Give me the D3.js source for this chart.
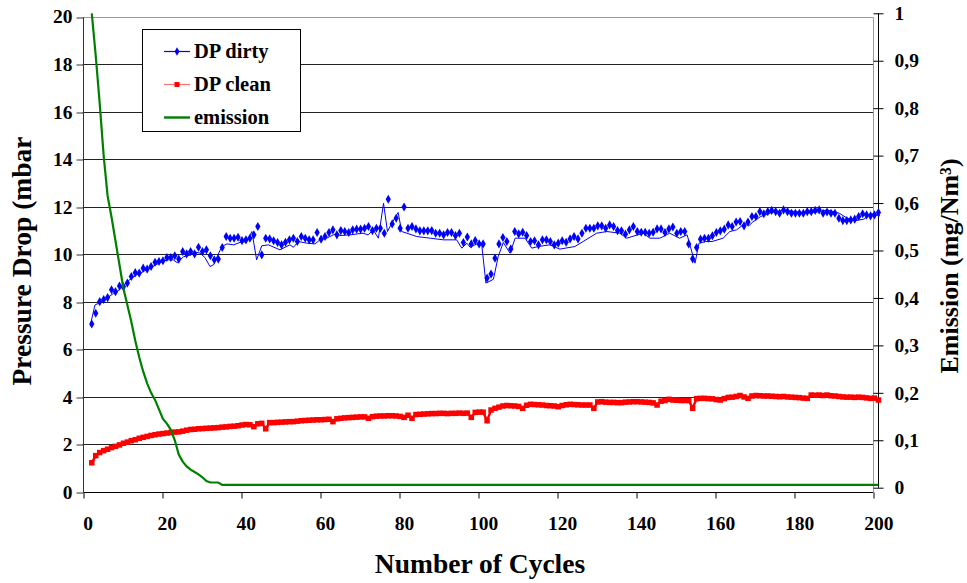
<!DOCTYPE html>
<html><head><meta charset="utf-8">
<script src="https://cdn.jsdelivr.net/npm/d3@7/dist/d3.min.js"></script>
<style>html,body{margin:0;padding:0;background:#fff;}svg{display:block;}
svg text{font-family:"Liberation Serif","Times New Roman",serif !important;font-weight:bold;fill:#000;}</style>
</head><body><svg id="c" width="967" height="583"></svg>
<script>
// ---------- DATA ----------
const cycles = d3.range(2, 202); // cycle numbers 2..201
const dpDirty = [7.07,7.52,8.01,8.10,8.18,8.51,8.43,8.67,8.64,8.79,9.07,9.23,9.21,9.42,9.38,9.49,9.67,9.70,9.73,9.87,
9.87,9.94,9.80,10.12,10.02,10.12,10.02,10.30,10.12,10.19,9.94,9.77,9.80,10.29,10.75,10.68,10.68,10.72,10.58,10.61,
10.68,10.82,11.17,9.98,10.68,10.65,10.57,10.50,10.40,10.51,10.61,10.68,10.54,10.75,10.68,10.61,10.61,10.92,10.64,10.75,
10.92,11.03,10.82,11.00,10.96,10.92,11.03,11.06,11.06,11.10,11.17,11.00,11.10,11.10,10.89,12.32,11.28,11.52,11.10,11.99,
11.10,11.17,11.07,10.99,10.99,10.99,11.00,10.89,10.89,10.82,10.92,10.92,10.79,10.89,10.50,10.73,10.44,10.58,10.44,10.44,
9.00,9.17,9.84,10.44,10.71,10.54,10.23,10.96,10.86,10.93,10.79,10.54,10.57,10.40,10.61,10.61,10.54,10.40,10.47,10.57,
10.51,10.65,10.75,10.65,10.89,11.10,11.10,11.10,11.20,11.20,11.10,11.24,11.17,11.00,10.99,10.85,11.03,11.17,10.96,10.93,
10.93,10.89,10.93,11.07,11.07,10.92,11.07,11.15,10.89,10.96,10.96,10.44,9.81,10.29,10.64,10.68,10.68,10.78,10.92,10.99,
11.06,11.24,11.17,11.36,11.38,11.20,11.36,11.59,11.59,11.80,11.71,11.80,11.85,11.80,11.73,11.87,11.80,11.73,11.73,11.73,
11.73,11.80,11.80,11.85,11.87,11.73,11.78,11.73,11.73,11.52,11.42,11.42,11.45,11.48,11.59,11.71,11.66,11.62,11.66,11.76];
// DP dirty trace (line) vertices
const dirtyLineCycles = [1.6,2.8,4.1,5.8,7.5,9.2,11.3,13.4,15.9,18.5,21,22.6,23.6,25.2,26.8,28.1,29.4,30.6,31.9,32.8,33.8,34.9,36.2,37.9,39.5,41.2,42.5,43.7,45,46.7,
49.6,52.1,53,54.3,56.4,58.5,59.7,61.4,63.1,64.3,64.7,67.3,70.6,71.9,73.2,74.5,75.8,76.8,77.9,79.5,80.4,81.7,84.2,87.6,91,94.3,95.6,96.9,97.7,99.8,
100.6,101.7,103.6,104.8,106.1,107.8,109.1,111.6,113.3,114.9,117.9,120.4,124.2,126.3,129.7,132.3,135.6,137.3,141.5,143.2,145.7,148.2,150.7,152.6,154.6,155.6,157.3,158.9,161.7,163.4,
165.1,167.3,168.2,169.2,171.2,174.3,177.2,180.2,183.1,186.1,188,190.1,191.1,193.1,195.1,197.3,199.2,201.4];
const dirtyLineValues = [7.0,7.87,7.97,8.15,8.36,8.53,8.90,9.14,9.35,9.59,9.77,9.77,9.65,9.90,9.96,10.10,10.05,9.87,9.49,9.56,9.94,10.33,10.44,10.40,10.50,10.54,10.96,9.77,10.36,10.40,
10.19,10.40,10.30,10.54,10.47,10.44,10.61,10.68,10.82,10.89,10.79,10.82,10.89,10.82,11.03,10.68,12.15,10.96,11.31,11.76,10.96,10.89,10.75,10.68,10.61,10.61,10.26,10.47,10.30,10.47,
10.47,8.79,8.95,9.90,10.50,10.05,10.68,10.68,10.26,10.33,10.40,10.22,10.33,10.54,10.89,10.96,10.89,10.68,10.89,10.68,10.68,10.89,10.68,10.82,9.63,10.47,10.54,10.54,10.68,10.96,
11.03,11.31,11.20,11.36,11.59,11.78,11.85,11.80,11.73,11.80,11.87,11.78,11.73,11.52,11.42,11.48,11.71,11.62,11.76];
const dpClean = [1.23,1.53,1.66,1.74,1.80,1.87,1.92,1.98,2.05,2.10,2.16,2.20,2.26,2.30,2.34,2.38,2.41,2.44,2.46,2.48,
2.50,2.52,2.53,2.56,2.60,2.63,2.64,2.66,2.67,2.68,2.69,2.70,2.71,2.73,2.74,2.76,2.77,2.79,2.82,2.84,
2.83,2.75,2.87,2.89,2.66,2.92,2.92,2.93,2.94,2.95,2.96,2.96,2.98,3.00,3.01,3.02,3.03,3.04,3.04,3.05,
3.06,2.96,3.08,3.10,3.12,3.13,3.14,3.15,3.16,3.16,3.10,3.17,3.19,3.20,3.20,3.21,3.21,3.20,3.18,3.14,
3.23,3.10,3.26,3.27,3.28,3.29,3.30,3.30,3.31,3.31,3.30,3.31,3.31,3.32,3.31,3.32,3.14,3.35,3.36,3.36,
3.00,3.45,3.52,3.57,3.62,3.64,3.63,3.62,3.60,3.52,3.65,3.69,3.68,3.67,3.66,3.64,3.63,3.62,3.59,3.64,
3.67,3.69,3.68,3.67,3.66,3.66,3.66,3.52,3.79,3.80,3.78,3.77,3.77,3.76,3.76,3.78,3.79,3.80,3.80,3.79,
3.78,3.77,3.75,3.66,3.82,3.85,3.90,3.87,3.86,3.85,3.85,3.85,3.52,3.93,3.94,3.94,3.93,3.92,3.89,3.87,
3.93,3.98,3.99,4.02,4.06,4.00,3.94,4.04,4.06,4.05,4.04,4.04,4.03,4.02,4.01,4.02,4.00,3.99,3.98,3.97,
3.95,3.94,4.08,4.07,4.08,4.06,4.08,4.05,4.04,4.02,4.00,3.99,3.99,3.98,3.99,3.98,3.96,3.94,3.95,3.87];
const emissionCycles = [2,3,4,5,6,7,8,9,10,11,12,13,14,15,16,17,18,19,20,21,22,23,24,25,26,27,28,29,30,31,32,33,34,35,201];
const emissionValues = [1.0,0.91,0.81,0.70,0.615,0.57,0.52,0.47,0.42,0.385,0.35,0.31,0.275,0.245,0.22,0.20,0.185,0.165,0.145,0.135,
0.122,0.10,0.07,0.055,0.045,0.038,0.033,0.028,0.022,0.014,0.011,0.011,0.011,0.006,0.006];
const xTicks = [0,20,40,60,80,100,120,140,160,180,200];
const yLeftTicks = [0,2,4,6,8,10,12,14,16,18,20];
const yRightTicks = [0,0.1,0.2,0.3,0.4,0.5,0.6,0.7,0.8,0.9,1];
const seriesNames = ["DP dirty","DP clean","emission"];
const seriesColors = ["#0000ff","#ff0000","#008000"];

// ---------- LAYOUT ----------
const svg = d3.select("#c");
const shift = 0.3;
const x = d3.scaleLinear().domain([0,200]).range([82.7,873.3]);
const yL = d3.scaleLinear().domain([0,20]).range([492,16.7]);
const yR = d3.scaleLinear().domain([0,1]).range([487.7,13.3]);
const plotL = 82.7, plotR = 873.3, plotT = 16.7, plotB = 492;
const crisp = v => Math.round(v) + 0.5;

// gridlines
svg.append("g").selectAll("line").data(yLeftTicks.filter(d=>d>0)).join("line")
  .attr("x1", plotL).attr("x2", crisp(plotR)).attr("y1", d=>crisp(yL(d))).attr("y2", d=>crisp(yL(d)))
  .attr("stroke", d=> d===20 ? "#999" : "#222").attr("stroke-width",1);
// right plot border
svg.append("line").attr("x1",crisp(plotR)).attr("x2",crisp(plotR)).attr("y1",crisp(plotT)).attr("y2",plotB)
  .attr("stroke","#999");

// left axis
const gL = svg.append("g").attr("transform",`translate(${crisp(plotL)},0)`)
  .call(d3.axisLeft(yL).tickValues(yLeftTicks).tickSize(7).tickPadding(4).tickFormat(d3.format("d")));
gL.attr("font-family",null).attr("font-size",null);
gL.select(".domain").attr("stroke","#333").attr("d",`M0,${crisp(plotT)}V${plotB}`);
gL.selectAll(".tick line").attr("stroke","#333").attr("transform",d=>`translate(0,${crisp(yL(d))-yL(d)})`);
gL.selectAll("text").style("font-size","19.5px");

// bottom axis
const gB = svg.append("g").attr("transform",`translate(0,${crisp(plotB)})`)
  .call(d3.axisBottom(x).tickValues(xTicks).tickSize(6).tickPadding(18).tickFormat(d3.format("d")));
gB.attr("font-family",null).attr("font-size",null);
gB.select(".domain").attr("stroke","#000").attr("d",`M${crisp(plotL)},0H${plotR}`);
gB.selectAll(".tick line").attr("stroke","#000").attr("transform",d=>`translate(${crisp(x(d))-x(d)},0)`);
gB.selectAll("text").style("font-size","19.5px").attr("dx", 5);

// right axis
const axR = 878;
const gR = svg.append("g").attr("transform",`translate(${crisp(axR)},0)`)
  .call(d3.axisRight(yR).tickValues(yRightTicks).tickSize(5).tickPadding(11).tickFormat(d => d===0||d===1 ? String(d) : String(d).replace(".",",")));
gR.attr("font-family",null).attr("font-size",null);
gR.select(".domain").attr("stroke","#000").attr("d",`M0,${yR(1)}V${yR(0)}`);
gR.selectAll(".tick line").attr("stroke","#000").attr("x1",-5).attr("x2",5);
gR.selectAll("text").style("font-size","19.5px");

// ---------- SERIES ----------
// DP dirty line trace
svg.append("path").datum(d3.zip(dirtyLineCycles, dirtyLineValues))
  .attr("fill","none").attr("stroke",seriesColors[0]).attr("stroke-width",1)
  .attr("d", d3.line().x(d=>x(d[0]+shift)).y(d=>yL(d[1])));
// DP dirty markers
const diamond = d3.symbol().type(d3.symbolDiamond).size(24);
svg.append("g").selectAll("path").data(d3.zip(cycles, dpDirty)).join("path")
  .attr("d", diamond).attr("transform", d=>`translate(${x(d[0]+shift)},${yL(d[1])})`)
  .attr("fill",seriesColors[0]);

// DP clean
svg.append("path").datum(d3.zip(cycles, dpClean))
  .attr("fill","none").attr("stroke",seriesColors[1]).attr("stroke-width",2.5)
  .attr("d", d3.line().x(d=>x(d[0]+shift)).y(d=>yL(d[1])));
svg.append("g").selectAll("rect").data(d3.zip(cycles, dpClean)).join("rect")
  .attr("x", d=>x(d[0]+shift)-2.75).attr("y", d=>yL(d[1])-2.75).attr("width",5.5).attr("height",5.5)
  .attr("fill",seriesColors[1]);

// emission
svg.append("path").datum(d3.zip(emissionCycles, emissionValues))
  .attr("fill","none").attr("stroke",seriesColors[2]).attr("stroke-width",2.2)
  .attr("d", d3.line().x(d=>x(d[0]+shift)).y(d=>yR(d[1])));

// ---------- LEGEND ----------
const lg = svg.append("g");
lg.append("rect").attr("x",142.5).attr("y",29.5).attr("width",158).attr("height",102)
  .attr("fill","#fff").attr("stroke","#000").attr("stroke-width",1);
const rowsY = [51.5, 84.5, 117.5];
seriesNames.forEach((name,i)=>{
  const yy = rowsY[i];
  lg.append("line").attr("x1",164).attr("x2",190).attr("y1",yy).attr("y2",yy)
    .attr("stroke", i===1 ? "#ff7070" : seriesColors[i]).attr("stroke-width", i===2 ? 2.4 : 1.2);
  if (i===0) lg.append("path").attr("d",d3.symbol().type(d3.symbolDiamond).size(20)).attr("transform",`translate(177,${yy})`).attr("fill",seriesColors[0]);
  if (i===1) lg.append("rect").attr("x",174.5).attr("y",yy-2.5).attr("width",5).attr("height",5).attr("fill",seriesColors[1]);
  lg.append("text").attr("x",194).attr("y",yy+6.5).style("font-size","20.5px").text(name);
});

// ---------- TITLES ----------
svg.append("text").attr("x",480).attr("y",573).attr("text-anchor","middle").style("font-size","27.5px")
  .text("Number of Cycles");
svg.append("text").attr("transform","translate(31,261) rotate(-90)").attr("text-anchor","middle").style("font-size","27.5px")
  .text("Pressure Drop  (mbar");
svg.append("text").attr("transform","translate(958,266) rotate(-90)").attr("text-anchor","middle").style("font-size","26px")
  .text("Emission (mg/Nm³)");
</script>
</body></html>
